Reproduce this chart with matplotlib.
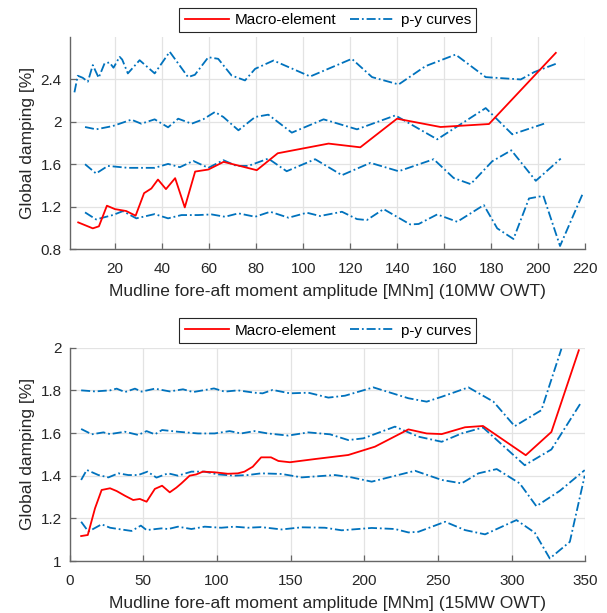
import matplotlib
matplotlib.use("Agg")
import matplotlib.pyplot as plt

plt.rcParams['font.family'] = ['Liberation Sans', 'DejaVu Sans']

# ---- 10MW OWT (top) ----
top_macro_x = [4.4, 10.6, 13.2, 16.6, 20, 24.8, 28.8, 32.4, 35.5, 38.3, 41.7, 45.6, 49.7, 54.1, 59.7, 66.2,
               80.3, 89.2, 110.8, 124.3, 139.9, 158.4, 179, 207.4]
top_macro_y = [1.053, 0.997, 1.016, 1.21, 1.178, 1.16, 1.116, 1.328, 1.372, 1.456, 1.366, 1.469, 1.194, 1.531,
               1.55, 1.622, 1.544, 1.703, 1.794, 1.759, 2.028, 1.95, 1.978, 2.647]

top_py_a_x = [2.8, 4.2, 6.3, 8.5, 10.6, 13.1, 15.6, 17.7, 19.4, 22, 23.1, 25.5, 30.5, 36.9, 43.3, 51.1, 54.0,
              59.7, 63.9, 69.6, 75.3, 79.6, 87.4, 103, 120.7, 129.3, 140.6, 152, 164.8, 177.6, 192.5, 198.2, 207.4]
top_py_a_y = [2.276, 2.432, 2.413, 2.376, 2.532, 2.413, 2.548, 2.557, 2.507, 2.61, 2.584, 2.454, 2.578, 2.454,
              2.657, 2.419, 2.441, 2.606, 2.591, 2.434, 2.388, 2.497, 2.575, 2.425, 2.591, 2.419, 2.35, 2.522,
              2.631, 2.419, 2.397, 2.466, 2.544]

top_py_b_x = [7.3, 12.0, 19.1, 27.0, 31.2, 36.9, 42.6, 46.9, 52.6, 57.5, 62.5, 66.1, 72.5, 79.6, 85.2, 95.2,
              108.7, 122.9, 139.2, 157, 177.6, 188.9, 202.4]
top_py_b_y = [1.95, 1.928, 1.959, 2.019, 1.981, 2.022, 1.947, 2.028, 1.981, 2.022, 2.091, 2.044, 1.919, 2.044,
              2.066, 1.897, 2.022, 1.928, 2.059, 1.834, 2.128, 1.881, 1.981]

top_py_c_x = [7.3, 12.0, 17.0, 25.5, 36.9, 42.6, 47.6, 53.3, 59.7, 66.1, 71.7, 76.7, 85.2, 93.0, 105.1, 116.5,
              128.6, 140.6, 155.5, 164, 171.2, 180.4, 188.5, 198.9, 209.5]
top_py_c_y = [1.6, 1.513, 1.584, 1.566, 1.566, 1.603, 1.572, 1.631, 1.566, 1.638, 1.584, 1.584, 1.653, 1.534,
              1.647, 1.497, 1.613, 1.534, 1.647, 1.47, 1.413, 1.628, 1.731, 1.444, 1.653]

top_py_d_x = [7.3, 12.0, 19.1, 23.4, 29.1, 36.9, 42.6, 48.3, 55.4, 61.1, 66.8, 72.5, 79.6, 86.0, 93.8, 101.6,
              107.2, 116.5, 122.9, 127.1, 134.2, 145.5, 149.1, 157, 165.5, 176.8, 182.5, 189.4, 196, 202.1,
              209.2, 218.7]
top_py_d_y = [1.147, 1.081, 1.122, 1.159, 1.091, 1.131, 1.091, 1.122, 1.122, 1.128, 1.106, 1.138, 1.106, 1.153,
              1.097, 1.144, 1.113, 1.153, 1.084, 1.075, 1.178, 1.034, 1.038, 1.128, 1.059, 1.216, 0.997, 0.897,
              1.278, 1.303, 0.831, 1.316]

# ---- 15MW OWT (bottom) ----
bot_macro_x = [7.9, 12.4, 17.3, 21.8, 27.5, 32.0, 37.6, 43.2, 47.7, 52.3, 57.9, 62.8, 68.0, 72.5, 75.9, 81.5,
               86, 90.5, 98.4, 107.4, 114.2, 118.7, 124.3, 130, 136.7, 141.7, 149.5, 156.3, 166.5, 189.1,
               207.2, 229.9, 242.3, 252.5, 268.3, 280.5, 309.5, 326.9, 345.5]
bot_macro_y = [1.117, 1.122, 1.247, 1.333, 1.341, 1.328, 1.306, 1.286, 1.291, 1.278, 1.338, 1.353, 1.322,
               1.344, 1.364, 1.4, 1.406, 1.419, 1.416, 1.409, 1.411, 1.419, 1.442, 1.486, 1.486, 1.469, 1.463,
               1.469, 1.478, 1.497, 1.536, 1.617, 1.598, 1.595, 1.627, 1.633, 1.496, 1.605, 1.988]

bot_py_e_x = [7.9, 17.3, 27.5, 32, 37.6, 44.4, 48.9, 57.9, 68, 77, 83.8, 98, 105.2, 114.2, 125.5, 131, 137.8,
              149.5, 162, 175.6, 186.9, 206.1, 229.9, 242.3, 252.5, 270.6, 287.6, 302, 320.1, 333.7]
bot_py_e_y = [1.8, 1.795, 1.8, 1.808, 1.792, 1.808, 1.794, 1.808, 1.795, 1.805, 1.792, 1.809, 1.794, 1.8,
              1.789, 1.786, 1.802, 1.786, 1.789, 1.766, 1.775, 1.814, 1.763, 1.747, 1.770, 1.814, 1.747,
              1.632, 1.707, 1.995]

bot_py_f_x = [7.9, 15.1, 23, 27.5, 37.6, 46.6, 52.3, 57.9, 62.8, 73.6, 87.2, 98.4, 108.6, 116.4, 125.5, 134.5,
              148.4, 162, 176.7, 189.1, 199.3, 220.8, 236.7, 252.5, 266, 280.5, 308.8, 326.9, 347.3]
bot_py_f_y = [1.619, 1.594, 1.603, 1.595, 1.606, 1.591, 1.609, 1.594, 1.614, 1.606, 1.598, 1.598, 1.609,
              1.598, 1.609, 1.598, 1.588, 1.603, 1.594, 1.567, 1.575, 1.630, 1.583, 1.559, 1.598, 1.626,
              1.449, 1.523, 1.746]

bot_py_g_x = [7.9, 11.7, 19.6, 26.4, 33.1, 39.9, 46.6, 52.9, 59, 66.9, 73.6, 82.7, 91.7, 100.7, 111.9, 121,
              130, 143.9, 157.5, 180.1, 191.4, 205, 234.4, 252.5, 266, 277.4, 289.8, 305.4, 316.7, 332.6, 349.5]
bot_py_g_y = [1.380, 1.427, 1.403, 1.392, 1.411, 1.403, 1.403, 1.419, 1.391, 1.411, 1.4, 1.419, 1.419, 1.406,
              1.4, 1.403, 1.411, 1.408, 1.392, 1.403, 1.392, 1.372, 1.423, 1.380, 1.364, 1.411, 1.431, 1.364,
              1.257, 1.329, 1.426]

bot_py_h_x = [7.9, 12.8, 21.8, 27.5, 33.1, 42.1, 48.4, 52.3, 62.4, 66.9, 73.6, 82.7, 91.7, 102.9, 111.9, 121,
              130, 143.9, 157.5, 173.3, 184.6, 205, 220.8, 229.9, 236.7, 254.8, 268.3, 281.9, 303.2, 315.6,
              325.8, 339.4, 349.5]
bot_py_h_y = [1.184, 1.138, 1.172, 1.156, 1.15, 1.141, 1.166, 1.145, 1.153, 1.15, 1.161, 1.15, 1.161, 1.156,
              1.161, 1.156, 1.159, 1.148, 1.158, 1.156, 1.144, 1.155, 1.15, 1.134, 1.137, 1.184, 1.145, 1.125,
              1.192, 1.133, 1.012, 1.09, 1.40]

top_xticks = [20, 40, 60, 80, 100, 120, 140, 160, 180, 200, 220]
top_yticks = [0.8, 1.2, 1.6, 2.0, 2.4]
top_ylabels = ["0.8", "1.2", "1.6", "2", "2.4"]
bot_xticks = [0, 50, 100, 150, 200, 250, 300, 350]
bot_yticks = [1.0, 1.2, 1.4, 1.6, 1.8, 2.0]
bot_ylabels = ["1", "1.2", "1.4", "1.6", "1.8", "2"]

RED = "#ff0000"
BLUE = "#0072bd"
DASHDOT = (0, (5, 1.6, 1, 1.6))

fig = plt.figure(figsize=(6.07, 6.13), dpi=100)
ax1 = fig.add_axes([0.1145, 0.5933, 0.850, 0.347])
ax2 = fig.add_axes([0.1145, 0.0848, 0.850, 0.348])


def style_axes(ax):
    ax.grid(True, color="#e3e3e3", linewidth=0.9)
    ax.set_axisbelow(True)
    for side in ["top", "right"]:
        ax.spines[side].set_visible(False)
    for side in ["left", "bottom"]:
        ax.spines[side].set_color("#666666")
        ax.spines[side].set_linewidth(1.0)
    ax.tick_params(direction="in", length=4, width=0.9, color="#666666",
                   labelsize=11, labelcolor="#262626")
    ax.tick_params(axis="x", pad=9)
    ax.tick_params(axis="y", pad=5.5)


# top panel
ax1.plot(top_macro_x, top_macro_y, color=RED, lw=1.3, label="Macro-element", zorder=3)
ax1.plot(top_py_a_x, top_py_a_y, color=BLUE, lw=1.3, ls=DASHDOT, label="p-y curves")
for xs, ys in [(top_py_b_x, top_py_b_y), (top_py_c_x, top_py_c_y), (top_py_d_x, top_py_d_y)]:
    ax1.plot(xs, ys, color=BLUE, lw=1.3, ls=DASHDOT)
ax1.set_xlim(0.7, 220)
ax1.set_ylim(0.8, 2.8)
ax1.set_xticks(top_xticks)
ax1.set_yticks(top_yticks)
ax1.set_yticklabels(top_ylabels)
ax1.set_xlabel("Mudline fore-aft moment amplitude [MNm] (10MW OWT)", fontsize=12.5, color="#262626",
               labelpad=6)
ax1.set_ylabel("Global damping [%]", fontsize=12.5, color="#262626")
style_axes(ax1)

# bottom panel
ax2.plot(bot_macro_x, bot_macro_y, color=RED, lw=1.3, label="Macro-element", zorder=3)
ax2.plot(bot_py_e_x, bot_py_e_y, color=BLUE, lw=1.3, ls=DASHDOT, label="p-y curves")
for xs, ys in [(bot_py_f_x, bot_py_f_y), (bot_py_g_x, bot_py_g_y), (bot_py_h_x, bot_py_h_y)]:
    ax2.plot(xs, ys, color=BLUE, lw=1.3, ls=DASHDOT)
ax2.set_xlim(0, 350)
ax2.set_ylim(1.0, 2.0)
ax2.set_xticks(bot_xticks)
ax2.set_yticks(bot_yticks)
ax2.set_yticklabels(bot_ylabels)
ax2.set_xlabel("Mudline fore-aft moment amplitude [MNm] (15MW OWT)", fontsize=12.5, color="#262626",
               labelpad=6)
ax2.set_ylabel("Global damping [%]", fontsize=12.5, color="#262626")
style_axes(ax2)

for ax, ycen in [(ax1, 0.9674), (ax2, 0.4608)]:
    leg = ax.legend(loc="center", bbox_to_anchor=(0.540, ycen), bbox_transform=fig.transFigure,
                    ncol=2, fontsize=11, frameon=True, fancybox=False, framealpha=1,
                    handlelength=2.9, handletextpad=0.4, columnspacing=0.9, borderpad=0.35)
    leg.get_frame().set_edgecolor("#262626")
    leg.get_frame().set_linewidth(0.8)

fig.savefig("out.png", dpi=100)
